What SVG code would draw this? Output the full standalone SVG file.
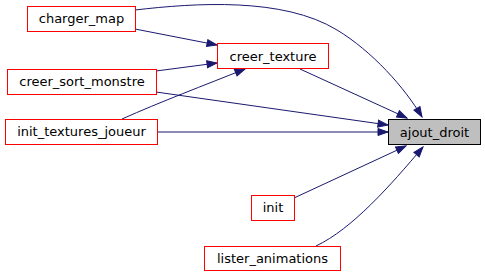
<svg xmlns="http://www.w3.org/2000/svg" width="485" height="277" viewBox="0 0 485 277">
  <style>
    .node rect { fill: #ffffff; stroke: #ff0000; stroke-width: 1; }
    .node.focus rect { fill: #bfbfbf; stroke: #000000; }
    .node text { font-family: "DejaVu Sans", sans-serif; font-size: 13px; fill: #000000; text-anchor: middle; }
    .edges path { fill: none; stroke: #191970; stroke-width: 1; marker-end: url(#arrow); }
  </style>
  <defs>
    <marker id="arrow" markerUnits="userSpaceOnUse" markerWidth="12" markerHeight="9" refX="11" refY="4.5" orient="auto">
      <path d="M1,1 L11,4.5 L1,8 z" fill="#191970" stroke="#191970" stroke-width="1"/>
    </marker>
  </defs>
  <rect width="485" height="277" fill="#ffffff"/>

  <g class="edges">
    <path d="M135,10 C195,3 283,-3 337,30 C372,51 405,88 422,117"/>
    <path d="M135,29 L217,45"/>
    <path d="M156,71 L217,63"/>
    <path d="M122,119 C160,102 205,85 245,69"/>
    <path d="M300,69 L407,118"/>
    <path d="M156,92 L388,125"/>
    <path d="M157,132 L388,132"/>
    <path d="M294,198 L406,146"/>
    <path d="M316,246 C352,229 390,186 423,147"/>
  </g>

  <g id="charger_map" class="node">
    <rect x="27.5" y="6.5" width="108" height="25"/>
    <text x="81.5" y="23">charger_map</text>
  </g>
  <g id="creer_texture" class="node">
    <rect x="217.5" y="43.5" width="111" height="25"/>
    <text x="273" y="60.5">creer_texture</text>
  </g>
  <g id="creer_sort_monstre" class="node">
    <rect x="7.5" y="69.5" width="149" height="25"/>
    <text x="82" y="86">creer_sort_monstre</text>
  </g>
  <g id="init_textures_joueur" class="node">
    <rect x="5.5" y="119.5" width="152" height="25"/>
    <text x="81.5" y="136">init_textures_joueur</text>
  </g>
  <g id="ajout_droit" class="node focus">
    <rect x="388.5" y="119.5" width="92" height="25"/>
    <text x="434.5" y="136.5">ajout_droit</text>
  </g>
  <g id="init" class="node">
    <rect x="251.5" y="195.5" width="43" height="25"/>
    <text x="273" y="212">init</text>
  </g>
  <g id="lister_animations" class="node">
    <rect x="204.5" y="246.5" width="136" height="24"/>
    <text x="272.5" y="262.5">lister_animations</text>
  </g>
</svg>
